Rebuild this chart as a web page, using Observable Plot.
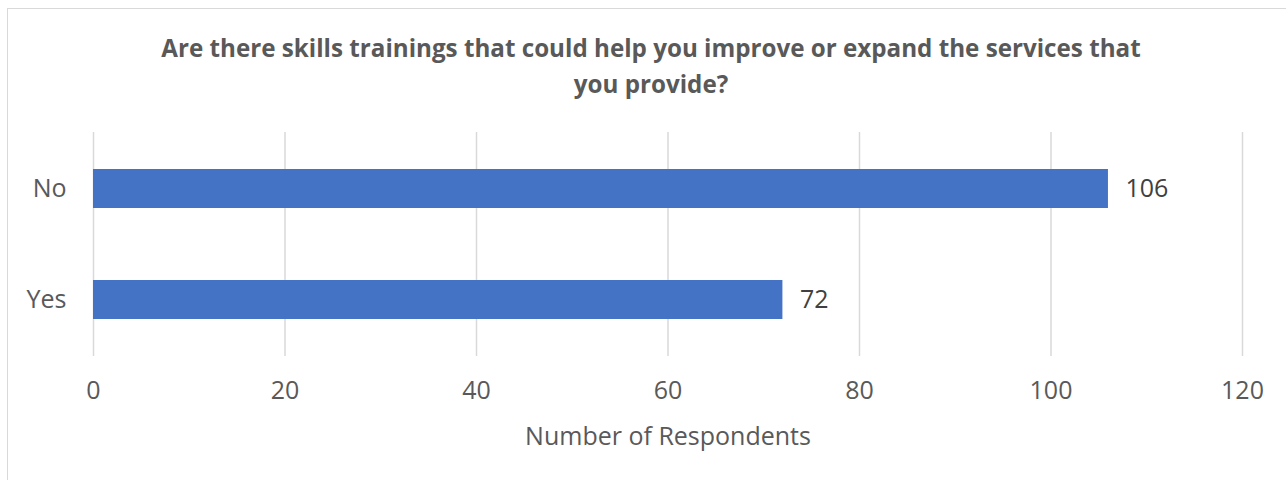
<!DOCTYPE html>
<html>
<head>
<meta charset="utf-8">
<script src="https://cdn.jsdelivr.net/npm/d3@7"></script>
<script src="https://cdn.jsdelivr.net/npm/@observablehq/plot@0.6"></script>
<style>
  html, body { margin: 0; padding: 0; background: #fff; }
  #wrap { position: relative; width: 1286px; height: 480px; overflow: hidden; font-family: "Open Sans", sans-serif; background: #fff; }
  #frame { position: absolute; left: 7px; top: 8px; width: 1300px; height: 500px; border: 1.5px solid #d9d9d9; box-sizing: border-box; z-index: 5; pointer-events: none; }
  #title { position: absolute; left: 8px; top: 30px; width: 1286px; text-align: center; font-weight: 700; font-size: 24.2px; line-height: 36px; color: #595959; }
  #chart { position: absolute; left: 0; top: 110px; }
  #chart svg { background: transparent !important; }
</style>
</head>
<body>
<div id="wrap">
  <div id="frame"></div>
  <div id="title">Are there skills trainings that could help you improve or expand the services that<br>you provide?</div>
  <div id="chart"></div>
</div>
<script>
const categories = ["No", "Yes"];
const counts = [106, 72];
const xTicks = [0, 20, 40, 60, 80, 100, 120];
const xLabel = "Number of Respondents";

const data = categories.map((c, i) => ({category: c, value: counts[i]}));

const chart = Plot.plot({
  width: 1286,
  height: 370,
  marginTop: 22,
  marginBottom: 124,
  marginLeft: 93,
  marginRight: 44,
  style: {fontFamily: "'Open Sans', sans-serif", background: "transparent"},
  x: {domain: [0, 120], ticks: xTicks},
  y: {domain: categories, paddingInner: 0.65, paddingOuter: 0.33},
  marks: [
    Plot.gridX(xTicks, {stroke: "#d9d9d9", strokeOpacity: 1, strokeWidth: 1.5}),
    Plot.barX(data, {x: "value", y: "category", fill: "#4472c4"}),
    Plot.text(data, {x: "value", y: "category", text: d => String(d.value), textAnchor: "start", dx: 17, fontSize: 25, fill: "#404040"}),
    Plot.axisY({tickSize: 0, tickPadding: 27, fontSize: 25, color: "#595959", label: null}),
    Plot.axisX(xTicks, {tickSize: 0, tickPadding: 25, fontSize: 25, color: "#595959", label: xLabel, labelAnchor: "center", labelArrow: "none", labelOffset: 88})
  ]
});
document.getElementById("chart").appendChild(chart);
</script>
</body>
</html>
